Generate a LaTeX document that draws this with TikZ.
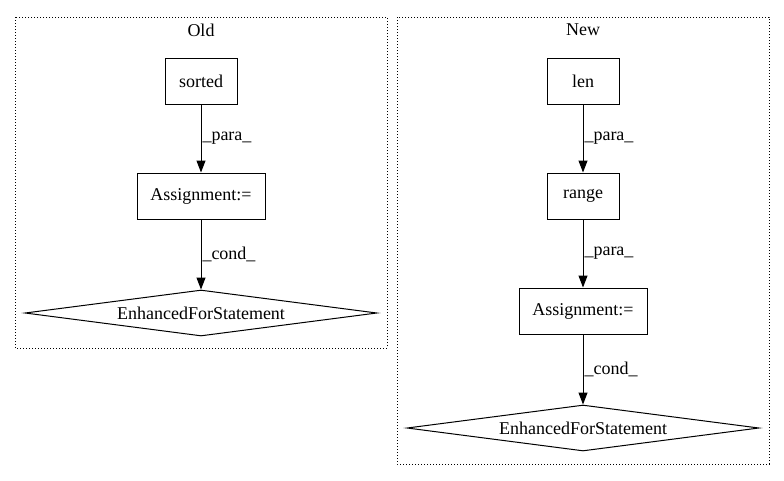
\documentclass[tikz,border=0pt]{standalone}
\usepackage{fontspec}
\setmainfont{Liberation Serif}
\usetikzlibrary{shapes.geometric,arrows.meta}
\begin{document}
\begin{tikzpicture}[x=1pt,y=-1pt,line width=1pt,
  every node/.style={font=\fontsize{18pt}{20pt}\selectfont},
  box/.style={draw,rectangle,inner sep=0pt},
  dia/.style={draw,diamond,aspect=7.6,inner sep=0pt,minimum width=352pt,minimum height=46pt},
  clus/.style={draw,dotted,line width=1pt},
  arr/.style={-{Triangle[length=12pt,width=9pt]},line width=1pt},
  lab/.style={anchor=west,inner sep=1pt}]
\useasboundingbox (0,0) rectangle (784,480);
\draw[clus] (15,17) rectangle (387,348);
\draw[clus] (397,17) rectangle (769,464);
\node (oldt) at (201,30) {Old};
\node (newt) at (583,30) {New};
% Old
\node[box,minimum width=72pt,minimum height=46pt] (sorted) at (201,81) {sorted};
\node[box,minimum width=128pt,minimum height=46pt] (oa) at (201,196) {Assignment:=};
\node[dia] (oe) at (201,313) {EnhancedForStatement};
\draw[arr] (sorted) -- node[lab,pos=0.5] {\_para\_} (oa);
\draw[arr] (oa) -- node[lab,pos=0.5] {\_cond\_} (oe.north);
% New
\node[box,minimum width=72pt,minimum height=46pt] (len) at (583,81) {len};
\node[box,minimum width=72pt,minimum height=46pt] (range) at (583,196) {range};
\node[box,minimum width=128pt,minimum height=46pt] (na) at (583,311) {Assignment:=};
\node[dia] (ne) at (583,428) {EnhancedForStatement};
\draw[arr] (len) -- node[lab,pos=0.5] {\_para\_} (range);
\draw[arr] (range) -- node[lab,pos=0.5] {\_para\_} (na);
\draw[arr] (na) -- node[lab,pos=0.5] {\_cond\_} (ne.north);
\end{tikzpicture}
\end{document}
